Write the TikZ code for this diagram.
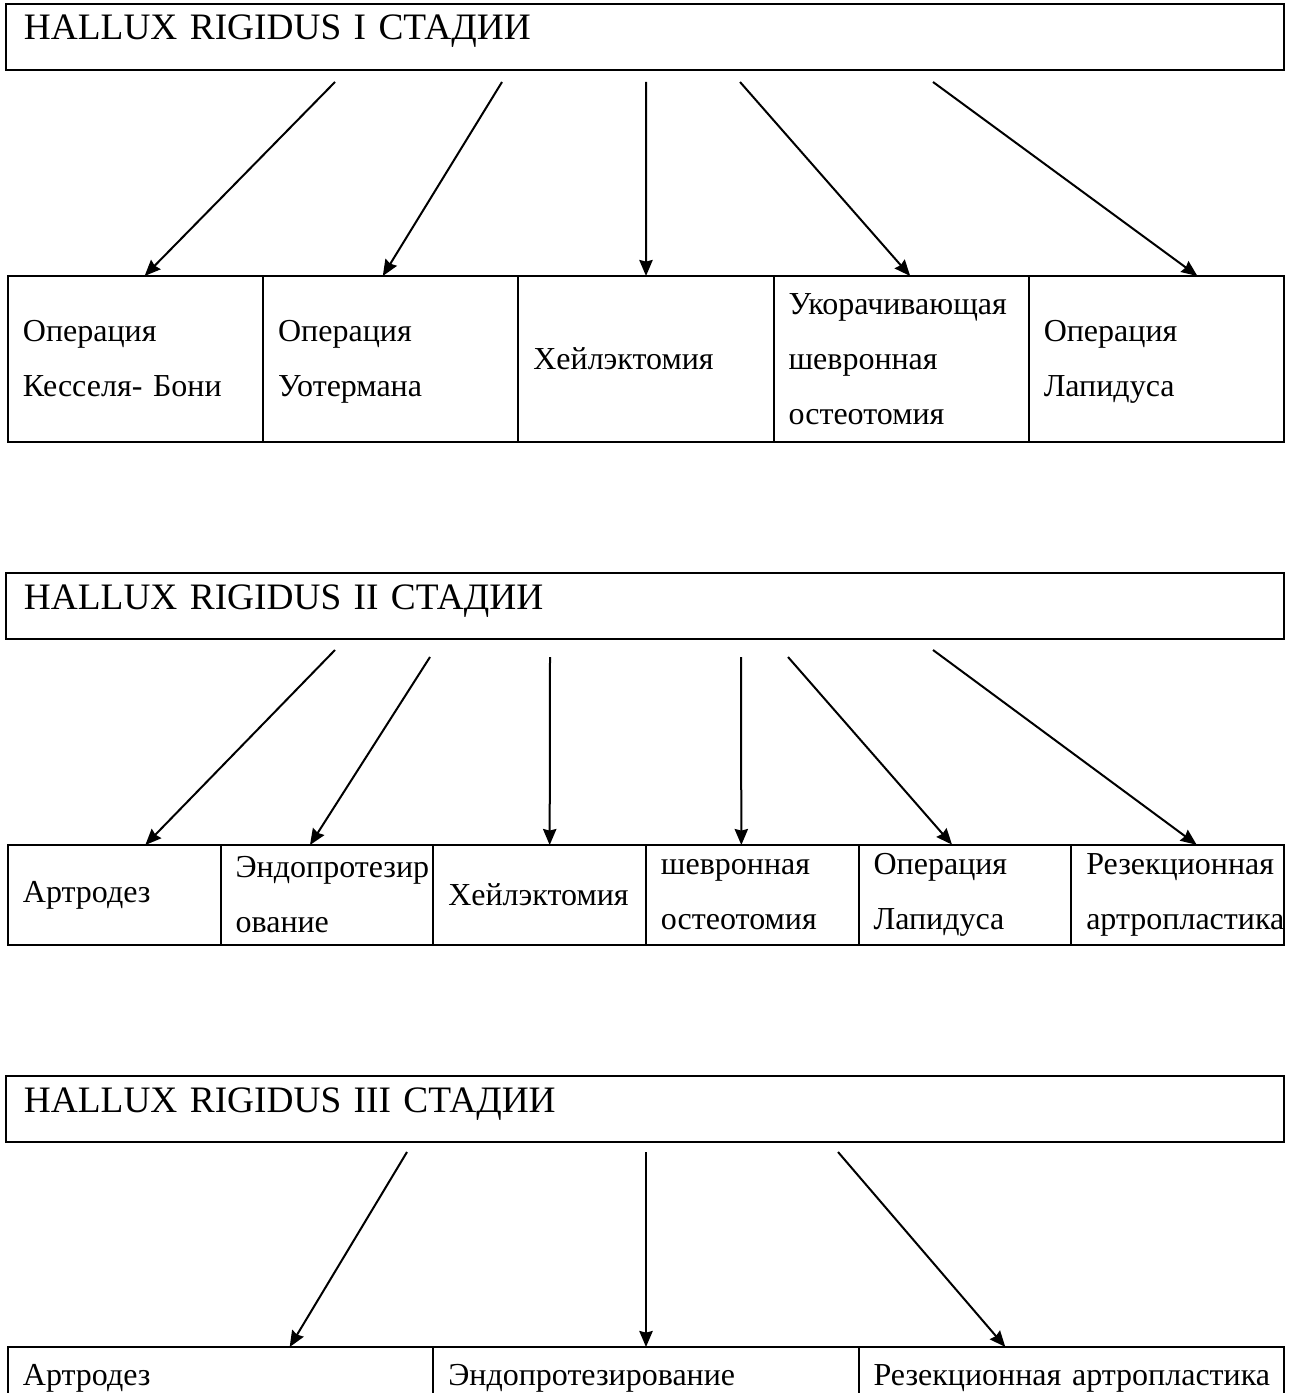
\documentclass[tikz,border=0pt]{standalone}
\usepackage{fontspec}
\setmainfont{Liberation Serif}
\usetikzlibrary{positioning,calc,arrows.meta}
\tikzset{>={Stealth[length=6pt,width=5pt,inset=0.6pt]}}
\hyphenpenalty=10000

\tikzset{
  stage/.style={draw,anchor=north west,align=left,outer sep=0pt,
    text width=465.75pt,inner xsep=6.75pt,inner ysep=3.5pt,
    text height=10pt,text depth=7.75pt,font=\fontsize{14}{16}\selectfont},
  cell/.style={draw,align=left,outer sep=0pt,inner xsep=5.6pt,
    font=\fontsize{12}{20.6}\selectfont},
  cellA/.style={cell,text width=84.5pt,minimum height=62.25pt,inner ysep=3pt,
    execute at begin node=\vphantom{Йр},execute at end node=\vphantom{Йр}},
  cellB/.style={cell,text width=68.55pt,minimum height=37.5pt},
  cellC/.style={cell,text width=148.3pt,inner ysep=6.5pt,
    text height=8pt,text depth=30pt}
}

\begin{document}
\begin{tikzpicture}[x=0.375pt,y=-0.375pt,line width=.75pt]
% Sheet in pixels of the scan, y downwards
\useasboundingbox (0,0) rectangle (1291,1393);
\clip (0,0) rectangle (1291,1393);

% Stage I
\node[stage] (t1) at (6,4) {HALLUX RIGIDUS I СТАДИИ};
\node[cellA,anchor=north west] (c11) at (8,276) {Операция\\Кесселя- Бони};
\node[cellA,right=0pt of c11] (c12) {Операция\\Уотермана};
\node[cellA,right=0pt of c12] (c13) {Хейлэктомия};
\node[cellA,right=0pt of c13] (c14) {Укорачивающая\\шевронная\\остеотомия};
\node[cellA,right=0pt of c14] (c15) {Операция\\Лапидуса};

\foreach \sx/\c/\dx in {335/c11/9,502/c12/-8,646/c13/0,740/c14/9,933/c15/41}{
  \coordinate (s\c) at (\sx,82);
  \draw[->] (s\c) -- ($(\c.north)+(\dx,0)$);
}

% Stage II
\node[stage] (t2) at (6,573) {HALLUX RIGIDUS II СТАДИИ};
\node[cellB,anchor=north west] (c21) at (8,845) {Артродез};
\node[cellB,right=0pt of c21] (c22) {Эндопротезир\\ование};
\node[cellB,right=0pt of c22] (c23) {Хейлэктомия};
\node[cellB,right=0pt of c23] (c24) {шевронная\\остеотомия};
\node[cellB,right=0pt of c24] (c25) {Операция\\Лапидуса};
\node[cellB,right=0pt of c25] (c26) {Резекционная\\артропластика};

\foreach \sx/\sy/\c/\dx in {335/650/c21/31,430/657/c22/-17,550/657/c23/10,
    741/657/c24/-11,788/657/c25/-13,933/650/c26/19}{
  \coordinate (s\c) at (\sx,\sy);
  \draw[->] (s\c) -- ($(\c.north)+(\dx,0)$);
}

% Stage III
\node[stage] (t3) at (6,1076) {HALLUX RIGIDUS III СТАДИИ};
\node[cellC,anchor=north west] (c31) at (8,1347) {Артродез};
\node[cellC,right=0pt of c31] (c32) {Эндопротезирование};
\node[cellC,right=0pt of c32] (c33) {Резекционная~артропластика};

\foreach \sx/\c/\dx in {407/c31/69,646/c32/0,838/c33/-66}{
  \coordinate (s\c) at (\sx,1152);
  \draw[->] (s\c) -- ($(\c.north)+(\dx,0)$);
}

\end{tikzpicture}
\end{document}
